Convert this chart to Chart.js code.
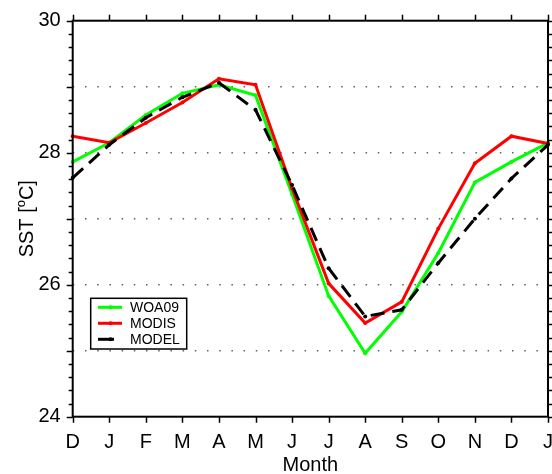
<!DOCTYPE html>
<html>
<head>
<meta charset="utf-8">
<script src="https://cdn.jsdelivr.net/npm/chart.js@4/dist/chart.umd.min.js"></script>
<style>
html,body{margin:0;padding:0;background:#fff;}
#wrap{width:552px;height:474px;position:relative;}
</style>
</head>
<body>
<div id="wrap"><canvas id="c" width="552" height="474"></canvas></div>
<script>
const months = ['D','J','F','M','A','M','J','J','A','S','O','N','D','J'];
const woa09 = [27.86,28.15,28.57,28.90,29.03,28.87,27.37,25.83,24.96,25.59,26.48,27.55,27.86,28.15];
const modis = [28.25,28.15,28.45,28.76,29.12,29.03,27.46,26.02,25.42,25.74,26.85,27.84,28.25,28.14];
const model = [27.62,28.12,28.53,28.84,29.06,28.65,27.51,26.25,25.52,25.62,26.33,27.00,27.61,28.12];
const yTickLabels = [24,26,28,30];
const seriesNames = ['WOA09','MODIS','MODEL'];
const seriesColors = ['#00ff00','#ff0000','#000000'];

const FONT = '"Liberation Sans", Arial, Helvetica, sans-serif';

const decor = {
  id: 'decor',
  afterDraw(chart) {
    const ctx = chart.ctx;
    const a = chart.chartArea;
    const ys = chart.scales.y, xs = chart.scales.x;
    ctx.save();
    ctx.strokeStyle = '#000';
    ctx.lineWidth = 2;
    ctx.strokeRect(a.left, a.top, a.right - a.left, a.bottom - a.top);
    ctx.lineWidth = 1.5;
    for (let i = 0; i <= 30; i++) {
      const v = ys.min + i * 0.2;
      const p = Math.round(ys.getPixelForValue(v)) + 0.5;
      const major = (i % 5 === 0);
      const len = major ? 6 : 4;
      ctx.beginPath();
      ctx.moveTo(a.left, p); ctx.lineTo(a.left - len, p);
      ctx.moveTo(a.right, p); ctx.lineTo(a.right + len, p);
      ctx.stroke();
    }
    for (let i = 0; i < months.length; i++) {
      const p = Math.round(xs.getPixelForValue(i)) + 0.5;
      ctx.beginPath();
      ctx.moveTo(p, a.bottom); ctx.lineTo(p, a.bottom + 6);
      ctx.moveTo(p, a.top); ctx.lineTo(p, a.top - 6);
      ctx.stroke();
    }
    ctx.fillStyle = '#000';
    ctx.translate(32.5, (a.top + a.bottom) / 2);
    ctx.rotate(-Math.PI / 2);
    ctx.textBaseline = 'alphabetic';
    const big = '20px ' + FONT, small = '13px ' + FONT;
    ctx.font = big;
    const w1 = ctx.measureText('SST [').width;
    const w3 = ctx.measureText('C]').width;
    ctx.font = small;
    const w2 = ctx.measureText('o').width;
    let x = -(w1 + w2 + w3) / 2;
    ctx.font = big; ctx.fillText('SST [', x, 0); x += w1;
    ctx.font = small; ctx.fillText('o', x, -8); x += w2;
    ctx.font = big; ctx.fillText('C]', x, 0);
    ctx.restore();

    ctx.save();
    const bx = 90.7, by = 298.3, bw = 96, bh = 50.7;
    ctx.fillStyle = '#fff';
    ctx.fillRect(bx, by, bw, bh);
    ctx.strokeStyle = '#000';
    ctx.lineWidth = 1.5;
    ctx.strokeRect(bx, by, bw, bh);
    ctx.font = '14px ' + FONT;
    ctx.textBaseline = 'middle';
    for (let i = 0; i < 3; i++) {
      const yy = 307.3 + i * 16;
      ctx.strokeStyle = seriesColors[i];
      ctx.fillStyle = seriesColors[i];
      ctx.lineWidth = 3;
      ctx.beginPath();
      ctx.moveTo(98, yy);
      ctx.lineTo(i === 2 ? 114 : 122, yy);
      ctx.stroke();
      ctx.beginPath();
      ctx.arc(110.5, yy, 2, 0, Math.PI * 2);
      ctx.fill();
      ctx.fillStyle = '#000';
      ctx.fillText(seriesNames[i], 130, yy + 0.5);
    }
    ctx.restore();
  }
};

function zeroPad(s) { s.paddingLeft = 0; s.paddingRight = 0; s.paddingTop = 0; s.paddingBottom = 0; }

new Chart(document.getElementById('c'), {
  type: 'line',
  data: {
    labels: months,
    datasets: [
      { label: seriesNames[0], data: woa09, borderColor: seriesColors[0], backgroundColor: seriesColors[0], borderWidth: 3, pointRadius: 2, pointBorderWidth: 0, tension: 0, order: 3 },
      { label: seriesNames[1], data: modis, borderColor: seriesColors[1], backgroundColor: seriesColors[1], borderWidth: 3, pointRadius: 2, pointBorderWidth: 0, tension: 0, order: 2 },
      { label: seriesNames[2], data: model, borderColor: seriesColors[2], backgroundColor: seriesColors[2], borderWidth: 3, borderDash: [14, 8], pointRadius: 2, pointBorderWidth: 0, tension: 0, order: 1 }
    ]
  },
  options: {
    responsive: false,
    animation: false,
    devicePixelRatio: 1,
    layout: { padding: { top: 20.7, right: 3.6, left: 0, bottom: 0 } },
    plugins: { legend: { display: false }, tooltip: { enabled: false } },
    scales: {
      x: {
        type: 'category',
        offset: false,
        grid: { display: false, drawTicks: false },
        border: { display: false },
        ticks: { color: '#000', font: { family: FONT, size: 20 }, padding: 14, maxRotation: 0, autoSkip: false },
        title: { display: true, text: 'Month', color: '#000', font: { family: FONT, size: 20, lineHeight: 1 }, padding: { top: 0, bottom: -1 } },
        afterFit(s) { s.height = 57.3; zeroPad(s); }
      },
      y: {
        min: 24, max: 30,
        grid: {
          drawTicks: false,
          lineWidth: 1.5,
          color: c => (c.tick && c.tick.value > 24 && c.tick.value < 30) ? '#606060' : 'rgba(0,0,0,0)'
        },
        border: { display: false, dash: [1.5, 10.7], dashOffset: -12 },
        ticks: {
          stepSize: 1,
          color: '#000',
          font: { family: FONT, size: 20 },
          padding: 12,
          callback: v => yTickLabels.includes(v) ? String(v) : ''
        },
        afterFit(s) { s.width = 72.7; zeroPad(s); }
      }
    }
  },
  plugins: [decor]
});
</script>
</body>
</html>
